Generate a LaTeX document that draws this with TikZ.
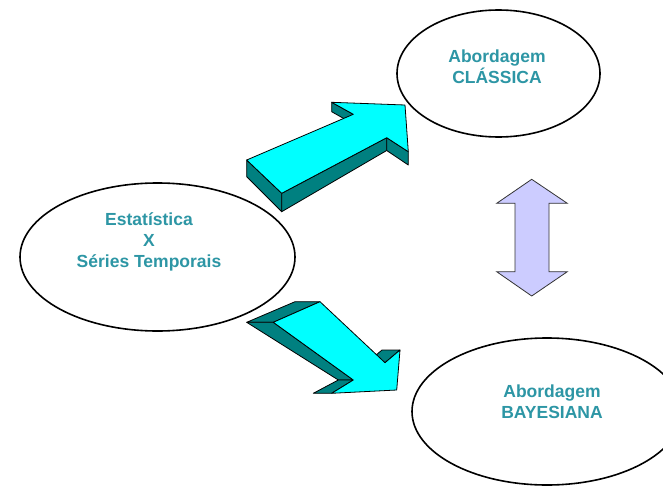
\documentclass[tikz,border=0pt]{standalone}
\usepackage{fontspec}
\setmainfont{Liberation Sans}
\usepackage{xcolor}
\usetikzlibrary{shapes.geometric}
\definecolor{tealtext}{RGB}{45,150,165}
\definecolor{arrowtop}{RGB}{0,255,255}
\definecolor{arrowside}{RGB}{0,128,128}
\definecolor{lavender}{RGB}{204,204,255}
\tikzstyle{oval} = [ellipse, draw=black, line width=1.6pt, fill=white, inner sep=0pt]
\tikzstyle{ovaltext} = [align=center, text=tealtext, font=\fontsize{17.5}{21}\selectfont\bfseries]
\tikzstyle{topface} = [fill=arrowtop, draw=black, line width=0.8pt, line join=round]
\tikzstyle{sideface} = [fill=arrowside, draw=black, line width=0.8pt, line join=round]

\begin{document}
\begin{tikzpicture}[x=1pt, y=-1pt]
    \useasboundingbox (0,0) rectangle (663,487);
    \fill[white] (0,0) rectangle (663,487);
    \clip (0,0) rectangle (663,487);

    % ovals
    \node(stats)[oval, minimum width=275pt, minimum height=148pt] at (157.5,257) {};
    \node(classic)[oval, minimum width=203pt, minimum height=127pt] at (498.5,73.5) {};
    \node(bayes)[oval, minimum width=270pt, minimum height=147pt] at (547,411.5) {};

    \node(statstext)[ovaltext] at (149,242) {Estatística\\X\\Séries Temporais};
    \node(classictext)[ovaltext] at (497,67) {Abordagem\\CLÁSSICA};
    \node(bayestext)[ovaltext] at (552,402) {Abordagem\\BAYESIANA};

    % upper block arrow
    \coordinate (ua) at (246.7,160);   \coordinate (ua') at (246.7,176.7);
    \coordinate (ug) at (281.7,193.3); \coordinate (ug') at (281.7,211.7);
    \coordinate (uf) at (386.7,137.7); \coordinate (uf') at (386.7,150.5);
    \coordinate (ue) at (408.3,151.7); \coordinate (ue') at (408.3,165);
    \coordinate (ud) at (405,105);
    \coordinate (uc) at (331.7,102.3); \coordinate (uc') at (331.7,111.7);
    \coordinate (ub) at (353.3,114.3); \coordinate (ub') at (353.3,124);
    \draw[sideface] (ua)--(ug)--(ug')--(ua')--cycle;
    \draw[sideface] (ug)--(uf)--(uf')--(ug')--cycle;
    \draw[sideface] (uf)--(ue)--(ue')--(uf')--cycle;
    \draw[sideface] (uc)--(ub)--(ub')--(uc')--cycle;
    \draw[topface] (ua)--(ub)--(uc)--(ud)--(ue)--(uf)--(ug)--cycle;

    % lower block arrow
    \coordinate (la) at (273.3,322.3); \coordinate (la') at (246.7,322.3);
    \coordinate (lb) at (320,301.7);   \coordinate (lb') at (295,301.7);
    \coordinate (lc) at (385,362.7);   \coordinate (lc') at (367,362.7);
    \coordinate (ld) at (400,350);     \coordinate (ld') at (382,350);
    \coordinate (le) at (396.7,390);
    \coordinate (lf) at (331.7,393.3); \coordinate (lf') at (313.3,393.3);
    \coordinate (lg) at (353.3,380);   \coordinate (lg') at (338.3,380);
    \draw[sideface] (la')--(lb')--(lb)--(la)--cycle;
    \draw[sideface] (la')--(la)--(lg)--(lg')--cycle;
    \draw[sideface] (lg')--(lg)--(lf)--(lf')--cycle;
    \draw[sideface] (lc)--(ld)--(ld')--(lc')--cycle;
    \draw[topface] (la)--(lb)--(lc)--(ld)--(le)--(lf)--(lg)--cycle;

    % double arrow
    \draw[fill=lavender, draw=black!80, line width=0.8pt]
        (531.7,179.3)--(567.3,203.3)--(549,203.3)--(549,271.7)--(567.3,271.7)
        --(531.7,296)--(496.7,271.7)--(515,271.7)--(515,203.3)--(496.7,203.3)--cycle;
\end{tikzpicture}
\end{document}
